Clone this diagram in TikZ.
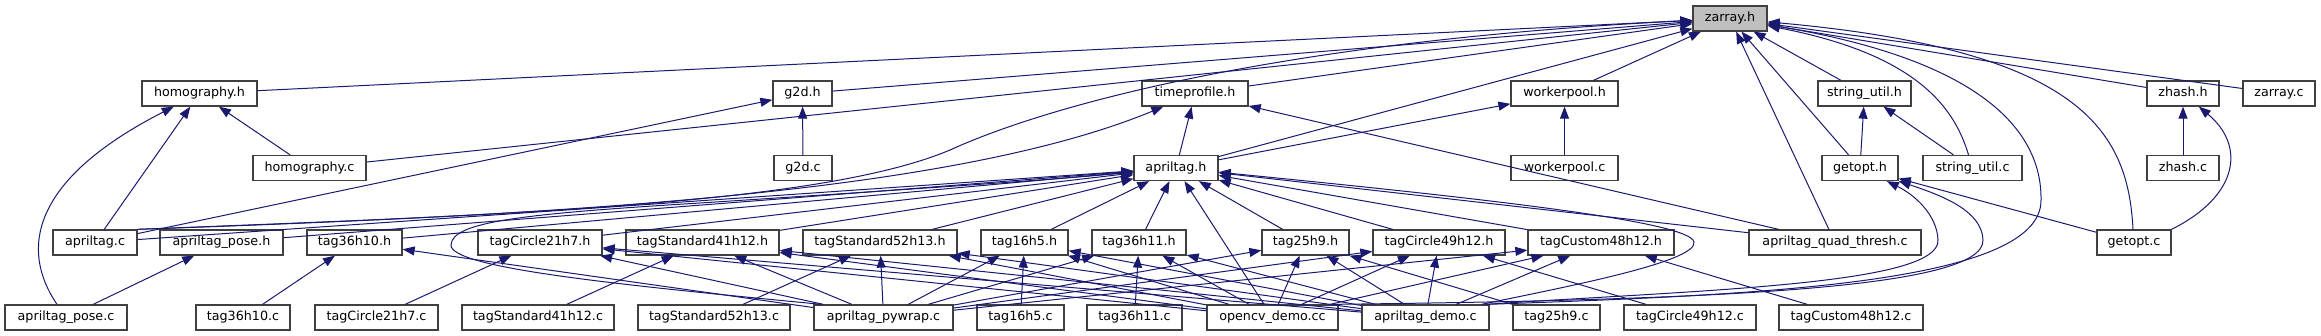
\documentclass[tikz,border=0pt]{standalone}
\usepackage{fontspec}
\setmainfont{DejaVu Sans}
\usetikzlibrary{arrows.meta,calc}
\definecolor{edgeblue}{HTML}{191970}
\definecolor{boxline}{HTML}{404040}
\definecolor{boxfill}{HTML}{BFBFBF}
\begin{document}
\begin{tikzpicture}[x=1pt,y=-1pt,
 box/.style={draw=boxline, line width=1.3pt, fill=white, minimum height=25pt, inner sep=0pt,
   text height=9.6pt, text depth=3pt, font=\fontsize{12.7}{15}\selectfont, anchor=center},
 e/.style={draw=edgeblue, line width=1pt, -{Triangle[length=12pt,width=9pt]}},
]
\useasboundingbox (0,0) rectangle (2321,336);
% row 0
\node[box, fill=boxfill, minimum width=74pt] (zarray) at (1730,18.5) {zarray.h};
% row 1
\node[box, minimum width=115pt] (homh) at (199.5,93.5) {homography.h};
\node[box, minimum width=59pt] (g2dh) at (802.5,93.5) {g2d.h};
\node[box, minimum width=106pt] (tph) at (1195,93.5) {timeprofile.h};
\node[box, minimum width=107pt] (wph) at (1564.5,93.5) {workerpool.h};
\node[box, minimum width=93pt] (suh) at (1864.5,93.5) {string\_util.h};
\node[box, minimum width=72pt] (zhh) at (2183,93.5) {zhash.h};
\node[box, minimum width=72pt] (zac) at (2279,93.5) {zarray.c};
% row 2
\node[box, minimum width=113pt] (homc) at (309.5,168) {homography.c};
\node[box, minimum width=58pt] (g2dc) at (803,168) {g2d.c};
\node[box, minimum width=84pt] (ath) at (1176,168) {apriltag.h};
\node[box, minimum width=107pt] (wpc) at (1564.5,168) {workerpool.c};
\node[box, minimum width=76pt] (goh) at (1860,168) {getopt.h};
\node[box, minimum width=99pt] (suc) at (1972.5,168) {string\_util.c};
\node[box, minimum width=72pt] (zhc) at (2183,168) {zhash.c};
% row 3
\node[box, minimum width=84pt] (atc) at (95,242.5) {apriltag.c};
\node[box, minimum width=123pt] (aph) at (221.5,242.5) {apriltag\_pose.h};
\node[box, minimum width=95pt] (t36h10h) at (354.5,242.5) {tag36h10.h};
\node[box, minimum width=124pt] (tc21h) at (540,242.5) {tagCircle21h7.h};
\node[box, minimum width=153pt] (ts41h) at (702.5,242.5) {tagStandard41h12.h};
\node[box, minimum width=154pt] (ts52h) at (880,242.5) {tagStandard52h13.h};
\node[box, minimum width=87pt] (t16h) at (1024.5,242.5) {tag16h5.h};
\node[box, minimum width=94pt] (t36h11h) at (1139,242.5) {tag36h11.h};
\node[box, minimum width=87pt] (t25h) at (1305.5,242.5) {tag25h9.h};
\node[box, minimum width=132pt] (tc49h) at (1439,242.5) {tagCircle49h12.h};
\node[box, minimum width=146pt] (tcu48h) at (1601,242.5) {tagCustom48h12.h};
\node[box, minimum width=172pt] (aqt) at (1835,242.5) {apriltag\_quad\_thresh.c};
\node[box, minimum width=74pt] (goc) at (2134,242.5) {getopt.c};
% row 4
\node[box, minimum width=122pt] (apc) at (66,317.5) {apriltag\_pose.c};
\node[box, minimum width=94pt] (t36h10c) at (243,317.5) {tag36h10.c};
\node[box, minimum width=123pt] (tc21c) at (376.5,317.5) {tagCircle21h7.c};
\node[box, minimum width=152pt] (ts41c) at (538,317.5) {tagStandard41h12.c};
\node[box, minimum width=152pt] (ts52c) at (714,317.5) {tagStandard52h13.c};
\node[box, minimum width=139pt] (pyw) at (883.5,317.5) {apriltag\_pywrap.c};
\node[box, minimum width=87pt] (t16c) at (1020.5,317.5) {tag16h5.c};
\node[box, minimum width=95pt] (t36h11c) at (1134.5,317.5) {tag36h11.c};
\node[box, minimum width=131pt] (ocv) at (1272.5,317.5) {opencv\_demo.cc};
\node[box, minimum width=127pt] (ademo) at (1425.5,317.5) {apriltag\_demo.c};
\node[box, minimum width=87pt] (t25c) at (1556.5,317.5) {tag25h9.c};
\node[box, minimum width=132pt] (tc49c) at (1690,317.5) {tagCircle49h12.c};
\node[box, minimum width=144pt] (tcu48c) at (1851,317.5) {tagCustom48h12.c};

% edges to zarray.h
\foreach \s in {homh,homc,g2dh,tph,ath,wph,suh,goh,aqt,zhh,zac}
  \draw[e] (\s) -- (zarray);
\draw[e] (atc.north east) .. controls (500,215) and (820,205) .. (950,150)
   .. controls (1060,100) and (1300,40) .. (zarray);
\draw[e] ($(suc.north)+(-4,0)$) .. controls (1955,110) and (1920,55) .. (zarray);
\draw[e] ($(goc.north)+(-1,0)$) .. controls (2128,130) and (2080,50) .. (zarray);
\draw[e] ($(ademo.north east)+(-2,0)$) .. controls (1750,295) and (2042,285) .. (2041,200)
   .. controls (2042,130) and (1980,60) .. (zarray);
% homography.h
\draw[e] (atc) -- (homh);
\draw[e] (homc) -- (homh);
\draw[e] ($(apc.north)+(-9,0)$) .. controls (20,250) and (30,180) .. (homh);
% g2d.h
\draw[e] (atc) -- (g2dh);
\draw[e] (g2dc) -- (g2dh);
% timeprofile.h
\draw[e] (atc.north east) .. controls (550,215) and (950,195) .. (tph);
\draw[e] (ath) -- (tph);
\draw[e] (aqt) -- (tph);
% workerpool.h
\draw[e] (ath) -- (wph);
\draw[e] (wpc) -- (wph);
% string_util.h, getopt.h, zhash.h
\draw[e] (goh) -- (suh);
\draw[e] (suc) -- (suh);
\draw[e] (goc) -- (goh);
\draw[e] ($(ademo.north east)+(-4,0)$) .. controls (1700,290) and (1940,285) .. (1938,240)
   .. controls (1937,215) and (1915,195) .. (goh);
\draw[e] ($(ocv.north east)+(-5,0)$) .. controls (1700,300) and (1985,290) .. (1983,240)
   .. controls (1982,210) and (1940,195) .. (goh);
\draw[e] (zhc) -- (zhh);
\draw[e] (goc.north east) .. controls (2240,195) and (2245,145) .. (zhh);
% apriltag.h
\foreach \s in {atc,aph,t36h10h,tc21h,ts41h,ts52h,t16h,t36h11h,t25h,tc49h,tcu48h,aqt,ocv}
  \draw[e] (\s) -- (ath);
\draw[e] ($(pyw.north west)+(8,0)$) .. controls (620,285) and (450,268) .. (451,245)
   .. controls (452,222) and (520,214) .. (700,203)
   .. controls (900,190) and (1050,180) .. (ath);
\draw[e] ($(ademo.north east)+(-8,0)$) .. controls (1560,288) and (1698,262) .. (1694,242)
   .. controls (1690,222) and (1500,200) .. (ath);
% apriltag_pose.h
\draw[e] (apc) -- (aph);
% tag family sources
\draw[e] (t36h10c) -- (t36h10h);
\draw[e] (tc21c) -- (tc21h);
\draw[e] (ts41c) -- (ts41h);
\draw[e] (ts52c) -- (ts52h);
\draw[e] (t16c) -- (t16h);
\draw[e] (t36h11c) -- (t36h11h);
\draw[e] (t25c) -- (t25h);
\draw[e] (tc49c) -- (tc49h);
\draw[e] (tcu48c) -- (tcu48h);
% programs including tag families
\foreach \t in {t36h10h,tc21h,ts41h,ts52h,t16h,t36h11h,t25h,tc49h,tcu48h}
  \draw[e] (pyw) -- (\t);
\foreach \t in {tc21h,ts41h,ts52h,t16h,t36h11h,t25h,tc49h,tcu48h}
  \draw[e] (ocv) -- (\t);
\foreach \t in {tc21h,ts41h,ts52h,t16h,t36h11h,t25h,tc49h,tcu48h}
  \draw[e] (ademo) -- (\t);
\end{tikzpicture}
\end{document}
